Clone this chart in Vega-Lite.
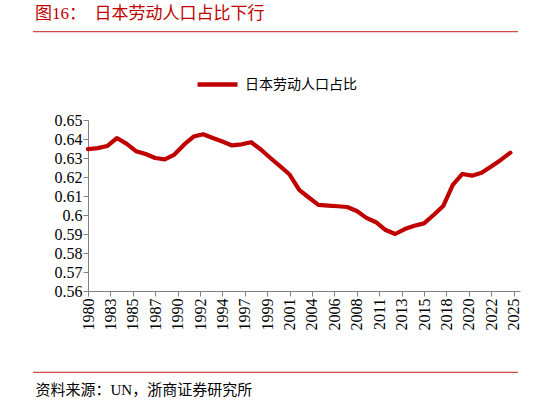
{
  "$schema": "https://vega.github.io/schema/vega-lite/v6.json",
  "width": 432,
  "height": 171,
  "autosize": {"type": "none"},
  "padding": {"left": 88, "top": 120, "right": 28, "bottom": 112},
  "background": "white",
  "config": {
    "view": {"stroke": null},
    "font": "Liberation Serif, Noto Sans CJK SC",
    "axis": {"labelOverlap": false}
  },
  "title": {
    "text": "图16：　日本劳动人口占比下行",
    "anchor": "start",
    "frame": "group",
    "dx": -53,
    "offset": 8,
    "fontSize": 17,
    "fontWeight": "normal",
    "color": "#c00000",
    "font": "Liberation Serif, Noto Sans CJK SC"
  },
  "data": {
    "values": [
      {"year": 1980, "share": 0.6347},
      {"year": 1981, "share": 0.6352},
      {"year": 1982, "share": 0.6363},
      {"year": 1983, "share": 0.6405},
      {"year": 1984, "share": 0.6376},
      {"year": 1985, "share": 0.6336},
      {"year": 1986, "share": 0.6321},
      {"year": 1987, "share": 0.6300},
      {"year": 1988, "share": 0.6293},
      {"year": 1989, "share": 0.6318},
      {"year": 1990, "share": 0.6370},
      {"year": 1991, "share": 0.6413},
      {"year": 1992, "share": 0.6425},
      {"year": 1993, "share": 0.6405},
      {"year": 1994, "share": 0.6387},
      {"year": 1995, "share": 0.6366},
      {"year": 1996, "share": 0.6372},
      {"year": 1997, "share": 0.6383},
      {"year": 1998, "share": 0.6345},
      {"year": 1999, "share": 0.6300},
      {"year": 2000, "share": 0.6257},
      {"year": 2001, "share": 0.6213},
      {"year": 2002, "share": 0.6132},
      {"year": 2003, "share": 0.6092},
      {"year": 2004, "share": 0.6053},
      {"year": 2005, "share": 0.6049},
      {"year": 2006, "share": 0.6046},
      {"year": 2007, "share": 0.6042},
      {"year": 2008, "share": 0.6021},
      {"year": 2009, "share": 0.5985},
      {"year": 2010, "share": 0.5962},
      {"year": 2011, "share": 0.5921},
      {"year": 2012, "share": 0.5900},
      {"year": 2013, "share": 0.5926},
      {"year": 2014, "share": 0.5943},
      {"year": 2015, "share": 0.5956},
      {"year": 2016, "share": 0.6000},
      {"year": 2017, "share": 0.6047},
      {"year": 2018, "share": 0.6158},
      {"year": 2019, "share": 0.6216},
      {"year": 2020, "share": 0.6207},
      {"year": 2021, "share": 0.6222},
      {"year": 2022, "share": 0.6255},
      {"year": 2023, "share": 0.6290},
      {"year": 2024, "share": 0.6328}
    ]
  },
  "layer": [
    {
      "mark": {"type": "line", "strokeWidth": 4.2, "strokeCap": "round", "strokeJoin": "round"},
      "encoding": {
        "x": {
          "field": "year",
          "type": "quantitative",
          "scale": {"domain": [1980, 2025], "nice": false, "zero": false},
          "axis": {
            "values": [1980, 1982.3333, 1984.6667, 1987, 1989.3333, 1991.6667, 1994, 1996.3333, 1998.6667, 2001, 2003.3333, 2005.6667, 2008, 2010.3333, 2012.6667, 2015, 2017.3333, 2019.6667, 2022, 2024.3333],
            "tickCount": 40,
            "labelExpr": "toString(ceil(datum.value - 0.01))",
            "labelAngle": 270,
            "labelFontSize": 16,
            "labelFont": "Liberation Serif",
            "labelColor": "#000000",
            "labelOverlap": false,
            "labelFlush": false,
            "labelBound": false,
            "labelPadding": 2,
            "tickSize": 5,
            "grid": false,
            "domainColor": "#808080",
            "tickColor": "#808080",
            "title": "资料来源：UN，浙商证券研究所",
            "titleX": -53,
            "titleY": 98,
            "titleAlign": "left",
            "titleAnchor": null,
            "titleBaseline": "middle",
            "titleFontSize": 15,
            "titleFontWeight": "normal",
            "titleFont": "Liberation Serif, Noto Sans CJK SC",
            "titleColor": "#000000"
          }
        },
        "y": {
          "field": "share",
          "type": "quantitative",
          "scale": {"domain": [0.56, 0.65], "nice": false, "zero": false},
          "axis": {
            "values": [0.56, 0.57, 0.58, 0.59, 0.6, 0.61, 0.62, 0.63, 0.64, 0.65],
            "tickCount": 20,
            "format": ".2~f",
            "title": null,
            "grid": false,
            "labelOverlap": false,
            "labelFontSize": 16,
            "labelFont": "Liberation Serif",
            "labelColor": "#000000",
            "labelPadding": 1,
            "tickSize": 5,
            "domainColor": "#808080",
            "tickColor": "#808080"
          }
        },
        "color": {
          "datum": "日本劳动人口占比",
          "scale": {"range": ["#c00000"]},
          "legend": {
            "orient": "none",
            "legendX": 107,
            "legendY": -58,
            "title": null,
            "padding": 0,
            "symbolType": "stroke",
            "symbolSize": 1600,
            "symbolStrokeWidth": 4.5,
            "labelFontSize": 14,
            "labelFont": "Liberation Serif, Noto Sans CJK SC",
            "labelColor": "#000000",
            "labelOffset": 5
          }
        }
      }
    },
    {
      "data": {"values": [{}]},
      "mark": {"type": "rule", "color": "#d04a4a", "strokeWidth": 1.3},
      "encoding": {
        "x": {"datum": 1974.27, "type": "quantitative"},
        "x2": {"datum": 2024.79},
        "y": {"datum": 0.6965, "type": "quantitative"}
      }
    },
    {
      "data": {"values": [{}]},
      "mark": {"type": "rule", "color": "#d04a4a", "strokeWidth": 1.3},
      "encoding": {
        "x": {"datum": 1974.27, "type": "quantitative"},
        "x2": {"datum": 2024.79},
        "y": {"datum": 0.5172, "type": "quantitative"}
      }
    }
  ]
}
